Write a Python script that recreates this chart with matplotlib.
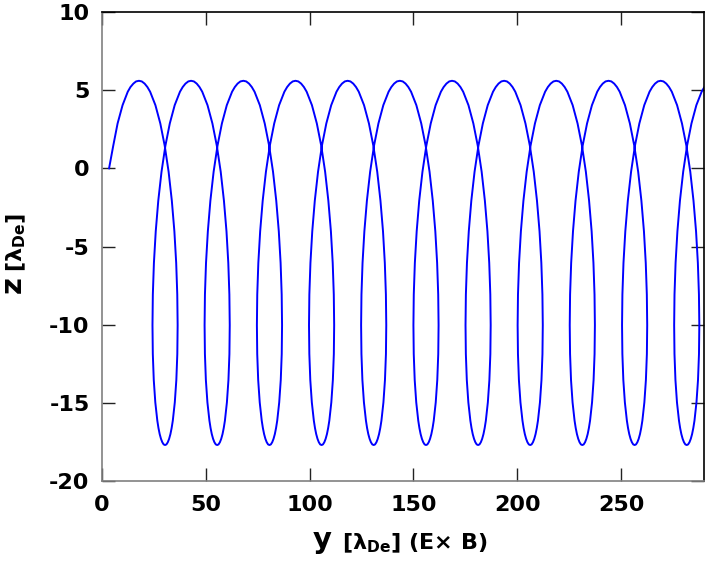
import matplotlib
matplotlib.use("Agg")
import matplotlib.pyplot as plt

phase_dy = [0.0, 1.36, 2.72, 4.06, 5.38, 7.92, 10.28, 12.41, 14.28, 15.83, 17.06,
            17.93, 18.45, 18.63, 18.47, 18.00, 17.26, 16.30, 15.74, 15.15, 14.53,
            13.89, 13.23, 12.57, 11.90, 11.24, 10.60, 9.98, 9.39, 8.84, 7.87,
            7.13, 6.67, 6.51, 6.68, 7.20, 8.08, 9.30, 10.86, 12.72, 14.85, 17.21,
            19.75, 21.07, 22.41, 23.77]
phase_z = [5.60, 5.56, 5.42, 5.20, 4.90, 4.04, 2.87, 1.44, -0.22, -2.07, -4.03,
           -6.05, -8.07, -10.03, -11.88, -13.54, -14.97, -16.14, -16.61, -17.00,
           -17.30, -17.52, -17.66, -17.70, -17.66, -17.52, -17.30, -17.00, -16.61,
           -16.14, -14.97, -13.54, -11.88, -10.03, -8.07, -6.05, -4.03, -2.07,
           -0.22, 1.44, 2.87, 4.04, 4.90, 5.20, 5.42, 5.56]

# y position of each orbit top
peaks = [17.8, 42.9, 68.1, 93.2, 118.3, 143.5, 168.6, 193.7, 218.8, 244.0, 269.1]

# first rise from the start point up to the first top
head_y = [3.4, 5.4, 7.5, 9.9, 12.4, 13.7, 15.1, 16.4]
head_z = [0.0, 1.44, 2.87, 4.04, 4.90, 5.20, 5.42, 5.56]

plt.rcParams['axes.unicode_minus'] = False
plt.rcParams['font.family'] = ['DejaVu Sans']
plt.rcParams['mathtext.default'] = 'regular'

ys = list(head_y)
zs = list(head_z)
for p in peaks:
    for dy, z in zip(phase_dy, phase_z):
        ys.append(p + dy)
        zs.append(z)

W, H = 706, 561
fig = plt.figure(figsize=(W / 100, H / 100), dpi=100)
ax = fig.add_axes([0.1445, 0.1426, 0.8527, 0.836])
ax.plot(ys, zs, color='#0000ff', lw=1.4)

ax.set_xlim(0, 290)
ax.set_ylim(-20, 10)
ax.set_xticks([0, 50, 100, 150, 200, 250])
ax.set_yticks([-20, -15, -10, -5, 0, 5, 10])

ax.tick_params(direction='in', length=9.5, width=1, top=True, right=True,
               labelsize=16, colors='#222222')
ax.tick_params(axis='x', pad=10)
ax.tick_params(axis='y', pad=9)
for lab in ax.get_xticklabels() + ax.get_yticklabels():
    lab.set_fontweight('bold')
    lab.set_color('black')

ax.spines['left'].set_color('#808080')
ax.spines['bottom'].set_color('#808080')
ax.spines['top'].set_color('black')
ax.spines['right'].set_color('black')
for s in ax.spines.values():
    s.set_linewidth(1.2)

# axis titles: big variable letter followed by the unit part
fig.text(313 / W, 1 - 548 / H, 'y', fontsize=21, fontweight='bold',
         ha='left', va='baseline')
fig.text(342 / W, 1 - 549 / H, r'[$\lambda_{\mathbf{De}}$] (E$\times$ B)',
         fontsize=16, fontweight='bold', ha='left', va='baseline')
fig.text(21 / W, 1 - 293 / H, 'z', fontsize=21, fontweight='bold',
         rotation=90, rotation_mode='anchor', ha='left', va='baseline')
fig.text(22 / W, 1 - 272 / H, r'[$\lambda_{\mathbf{De}}$]',
         fontsize=16, fontweight='bold', rotation=90, rotation_mode='anchor',
         ha='left', va='baseline')

fig.savefig('out.png', dpi=100)
